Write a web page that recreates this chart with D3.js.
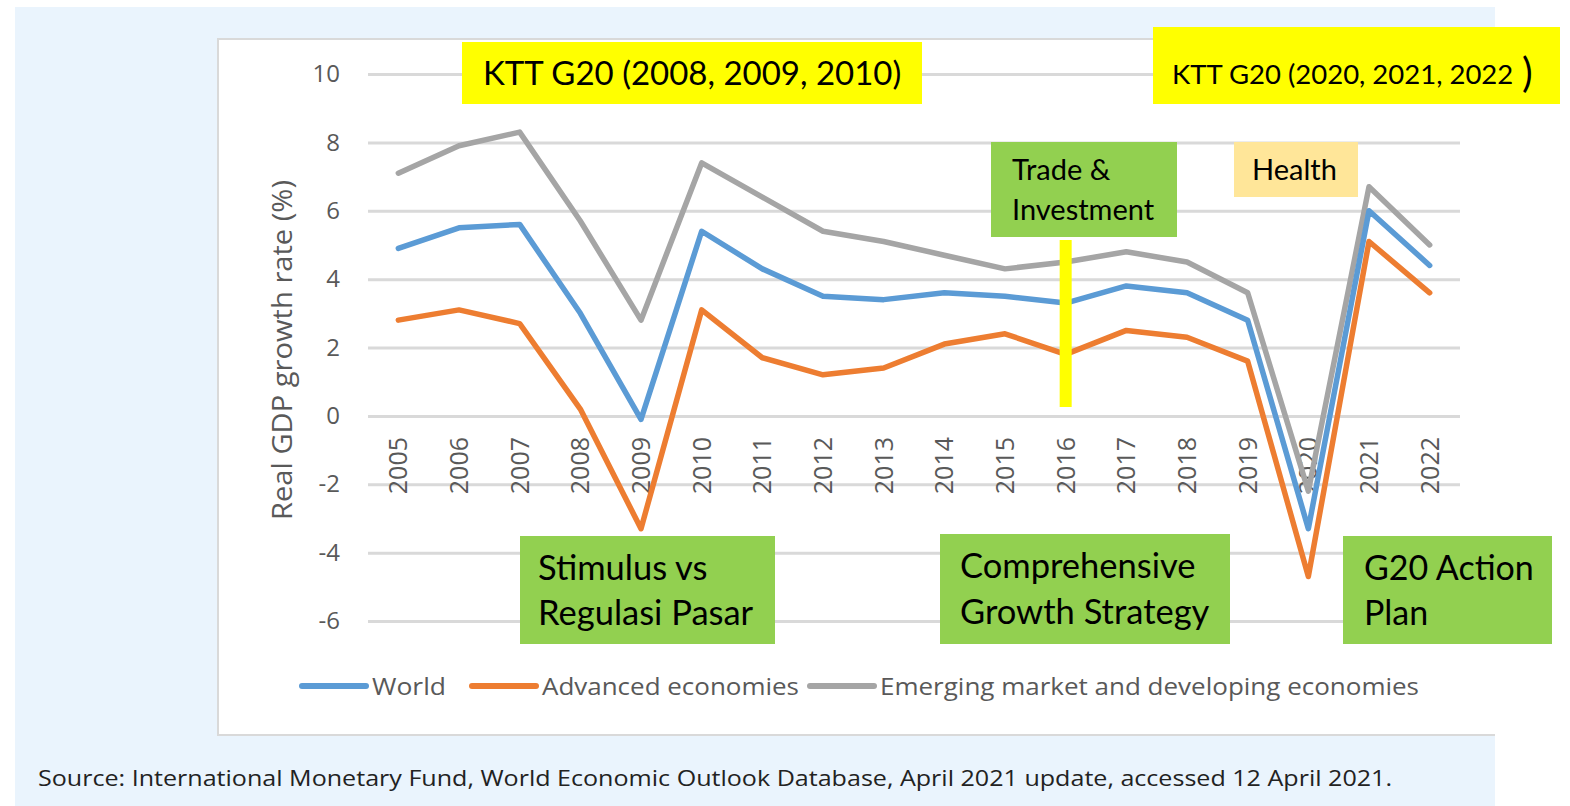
<!DOCTYPE html>
<html>
<head>
<meta charset="utf-8">
<script src="https://cdn.jsdelivr.net/npm/d3@7"></script>
<style>
  body { margin: 0; background: #fff; }
  svg { display: block; }
</style>
</head>
<body>
<div id="chart"></div>
<script>
// data
const years = ['2005','2006','2007','2008','2009','2010','2011','2012','2013','2014','2015','2016','2017','2018','2019','2020','2021','2022']
const world = [4.9, 5.5, 5.6, 3.0, -0.1, 5.4, 4.3, 3.5, 3.4, 3.6, 3.5, 3.3, 3.8, 3.6, 2.8, -3.3, 6.0, 4.4]
const advanced = [2.8, 3.1, 2.7, 0.2, -3.3, 3.1, 1.7, 1.2, 1.4, 2.1, 2.4, 1.8, 2.5, 2.3, 1.6, -4.7, 5.1, 3.6]
const emerging = [7.1, 7.9, 8.3, 5.7, 2.8, 7.4, 6.4, 5.4, 5.1, 4.7, 4.3, 4.5, 4.8, 4.5, 3.6, -2.2, 6.7, 5.0]
const seriesNames = ['World', 'Advanced economies', 'Emerging market and developing economies']
const yTicks = [-6, -4, -2, 0, 2, 4, 6, 8, 10]

const W = 1570, H = 806
const colors = ['#5b9bd5', '#ed7d31', '#a5a5a5']
const font = "'Open Sans', sans-serif"
const noteFont = "Lato, 'Noto Sans', sans-serif"

const svg = d3.select('#chart').append('svg')
  .attr('width', W)
  .attr('height', H)

// backgrounds
svg.append('rect').attr('x', 15).attr('y', 7).attr('width', 1480).attr('height', 799).attr('fill', '#eaf4fd')
svg.append('rect').attr('x', 218).attr('y', 39).attr('width', 1352).attr('height', 696).attr('fill', '#fff')
svg.append('path')
  .attr('d', 'M1495,39H218V735H1495')
  .attr('fill', 'none')
  .attr('stroke', '#d9d9d9')
  .attr('stroke-width', 2)

const x = d3.scalePoint()
  .domain(years)
  .range([368, 1460])
  .padding(0.5)

const y = d3.scaleLinear()
  .domain([-6, 10])
  .range([621, 74])

// gridlines + y labels
const yAxis = d3.axisLeft(y)
  .tickValues(yTicks)
  .tickFormat(d => String(d))
  .tickSize(-(1460 - 368))
  .tickPadding(28)

svg.append('g')
  .attr('transform', 'translate(368,0)')
  .call(yAxis)
  .call(g => g.select('.domain').remove())
  .call(g => g.selectAll('line').attr('stroke', '#d9d9d9').attr('stroke-width', 3))
  .call(g => g.selectAll('text')
    .attr('fill', '#595959')
    .style('font-family', font)
    .style('font-size', '24px'))

// year labels, rotated, hanging under the zero line
svg.append('g')
  .selectAll('text')
  .data(years)
  .enter()
  .append('text')
  .attr('transform', d => `translate(${x(d) + 9},437) rotate(-90)`)
  .attr('text-anchor', 'end')
  .attr('fill', '#595959')
  .style('font-family', font)
  .style('font-size', '25px')
  .text(d => d)

svg.append('text')
  .attr('transform', 'translate(292,350) rotate(-90)')
  .attr('text-anchor', 'middle')
  .attr('fill', '#595959')
  .style('font-family', font)
  .style('font-size', '27px')
  .attr('textLength', 340)
  .attr('lengthAdjust', 'spacingAndGlyphs')
  .text('Real GDP growth rate (%)')

// the three lines
const line = d3.line()
  .x((d, i) => x(years[i]))
  .y(d => y(d))

const allSeries = [world, advanced, emerging]
svg.append('g')
  .selectAll('path')
  .data([2, 1, 0])
  .enter()
  .append('path')
  .attr('d', i => line(allSeries[i]))
  .attr('fill', 'none')
  .attr('stroke', i => colors[i])
  .attr('stroke-width', 5.5)
  .attr('stroke-linejoin', 'round')
  .attr('stroke-linecap', 'round')

// legend
const legendX = [300, 470, 808]
const lg = svg.append('g')
  .selectAll('g')
  .data(seriesNames)
  .enter()
  .append('g')
  .attr('transform', (d, i) => `translate(${legendX[i]},686)`)
lg.append('line')
  .attr('x1', 2).attr('x2', 66)
  .attr('stroke', (d, i) => colors[i])
  .attr('stroke-width', 6)
  .attr('stroke-linecap', 'round')
lg.append('text')
  .attr('x', 72)
  .attr('y', 9)
  .attr('fill', '#595959')
  .style('font-family', font)
  .style('font-size', '24px')
  .attr('textLength', (d, i) => [74, 257, 539][i])
  .attr('lengthAdjust', 'spacingAndGlyphs')
  .text(d => d)

// annotation boxes
const notes = [
  { x: 462, y: 42, w: 460, h: 62, fill: '#ffff00', lines: ['KTT G20 (2008, 2009, 2010)'], size: 33, tx: 483, ty: [85] },
  { x: 1153, y: 27, w: 407, h: 77, fill: '#ffff00', lines: ['KTT G20 (2020, 2021, 2022'], size: 27.5, tx: 1172, ty: [84] },
  { x: 991, y: 142, w: 186, h: 95, fill: '#92d050', lines: ['Trade &', 'Investment'], size: 29, tx: 1012, ty: [180, 220] },
  { x: 1234, y: 142, w: 124, h: 55, fill: '#ffe699', lines: ['Health'], size: 29, tx: 1252, ty: [180] },
  { x: 520, y: 536, w: 255, h: 108, fill: '#92d050', lines: ['Stimulus  vs', 'Regulasi Pasar'], size: 34.5, tx: 538, ty: [580, 625] },
  { x: 940, y: 534, w: 290, h: 110, fill: '#92d050', lines: ['Comprehensive', 'Growth Strategy'], size: 34.5, tx: 960, ty: [578, 624] },
  { x: 1343, y: 536, w: 209, h: 108, fill: '#92d050', lines: ['G20 Action', 'Plan'], size: 34, tx: 1364, ty: [580, 625] }
]

const ng = svg.append('g')
  .selectAll('g')
  .data(notes)
  .enter()
  .append('g')
ng.append('rect')
  .attr('x', d => d.x).attr('y', d => d.y)
  .attr('width', d => d.w).attr('height', d => d.h)
  .attr('fill', d => d.fill)
ng.each(function (d) {
  d3.select(this).selectAll('text')
    .data(d.lines)
    .enter()
    .append('text')
    .attr('x', d.tx)
    .attr('y', (t, i) => d.ty[i])
    .attr('fill', '#000')
    .style('font-family', noteFont)
    .style('font-size', d.size + 'px')
    .text(t => t)
})

// oversized closing bracket on the second summit box
svg.append('text')
  .attr('x', 1522).attr('y', 87)
  .style('font-family', noteFont)
  .style('font-size', '40px')
  .text(')')

// yellow marker at 2016
svg.append('rect')
  .attr('x', x('2016') - 6)
  .attr('y', 240)
  .attr('width', 12)
  .attr('height', 167)
  .attr('fill', '#ffff00')

// source
svg.append('text')
  .attr('x', 38).attr('y', 786)
  .attr('fill', '#222')
  .style('font-family', font)
  .style('font-size', '22px')
  .attr('textLength', 1354)
  .attr('lengthAdjust', 'spacingAndGlyphs')
  .text('Source: International Monetary Fund, World Economic Outlook Database, April 2021 update, accessed 12 April 2021.')
</script>
</body>
</html>
